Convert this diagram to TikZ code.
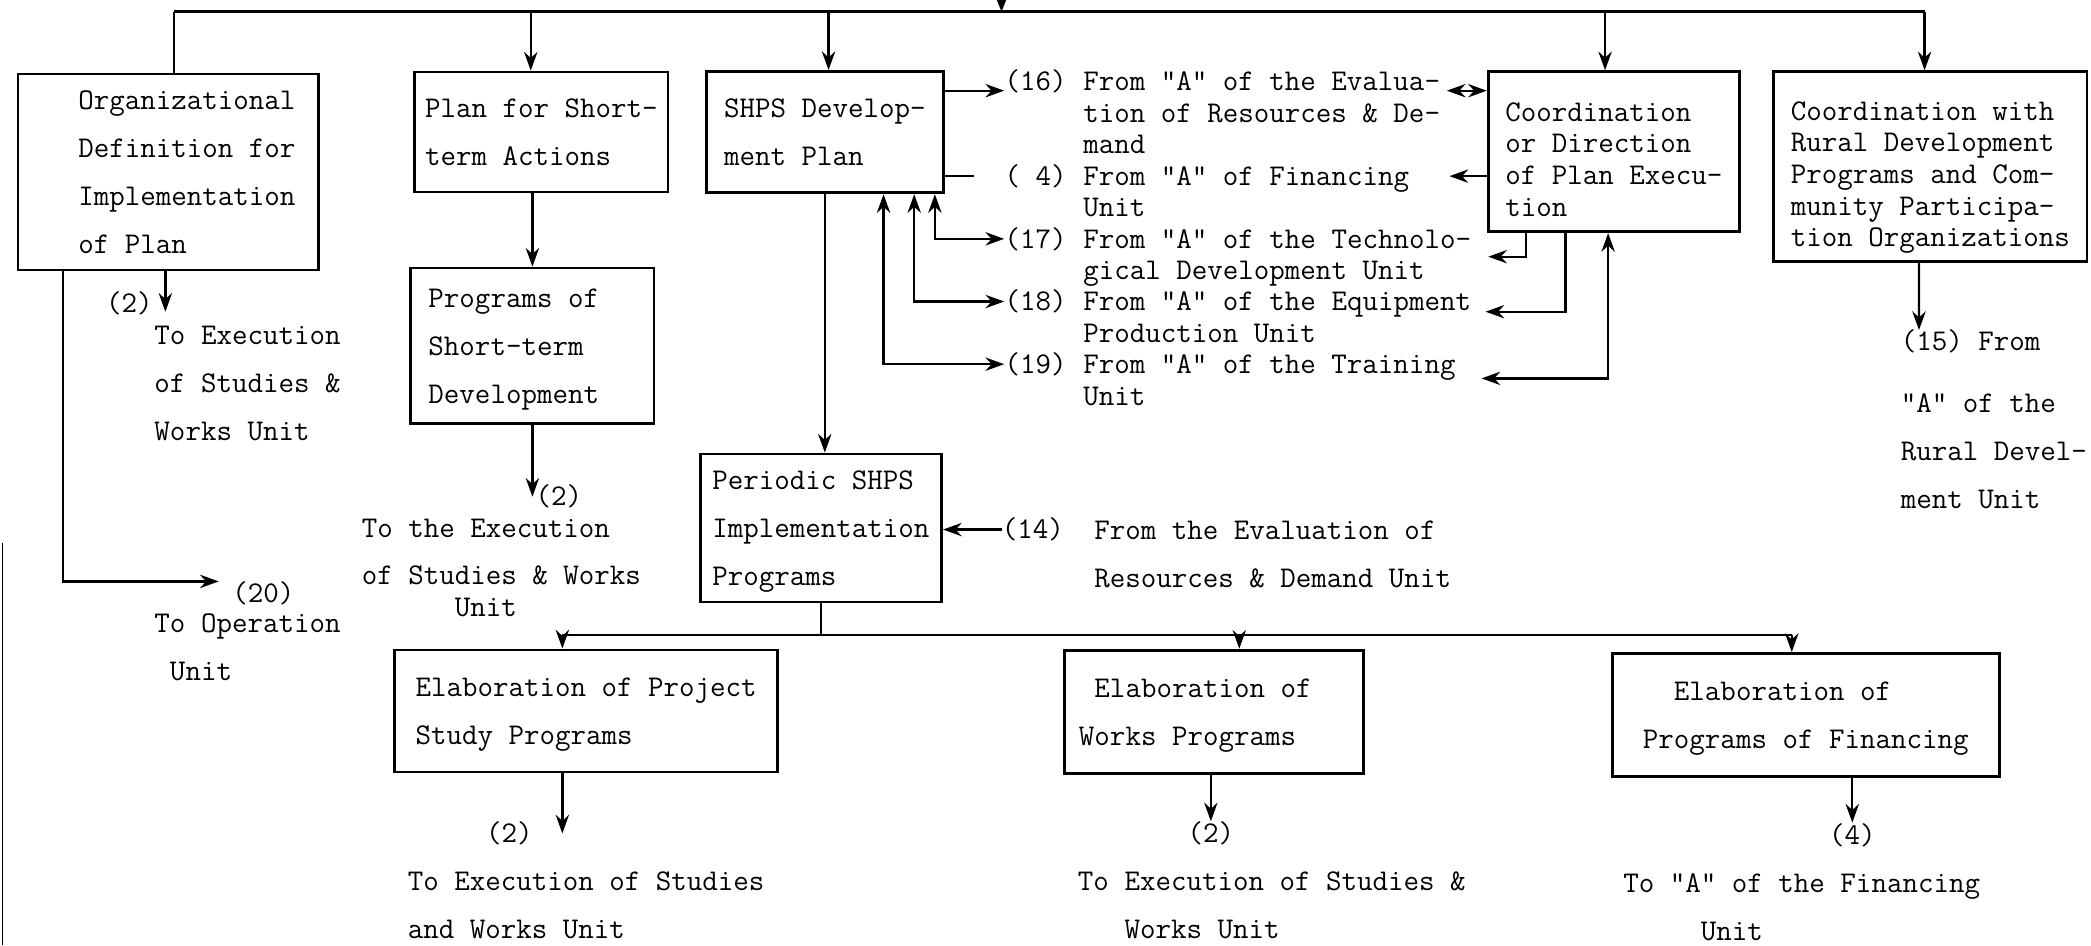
\documentclass[tikz,border=0pt]{standalone}
\usepackage{tikz}
\usetikzlibrary {arrows.meta,
                 positioning}
\tikzset{
        stage/.style={draw, rectangle, line width=1.2pt, inner sep=0pt},
        spaced/.style={font=\fontsize{12.85}{20.5}\selectfont\ttfamily},
        packed/.style={font=\fontsize{12.85}{13.5}\selectfont\ttfamily},
        note/.style={inner sep=0pt, anchor=base west},
        link/.style={line width=1pt},
        myarrow/.style={-{Stealth[length=2.8mm, width=2mm]}, line width=1pt},
        twoway/.style={{Stealth[length=2.8mm, width=2mm]}-{Stealth[length=2.8mm, width=2mm]},
                       line width=1pt},
 }

\begin{document}
\begin{tikzpicture}[x=0.02cm, y=-0.02cm]
    \useasboundingbox (0,0) rectangle (1568,709);

    % boxes of the plan
    \node[draw, stage, spaced, minimum width=4.51cm, minimum height=2.94cm] (orgdef) at (126.2,129)
    {\begin{tabular}{@{\hspace{0.56cm}}l@{}}
        Organizational\\
        Definition for\\
        Implementation\\
        of Plan\\
    \end{tabular}};

    \node[draw, stage, spaced, minimum width=3.8cm, minimum height=1.8cm] (shortplan) at (406,99)
    {\begin{tabular}{@{}l@{}}
        Plan for Short-\\
        term Actions\\
    \end{tabular}};

    \node[draw, stage, spaced, minimum width=3.65cm, minimum height=2.33cm] (shortprog) at (399.25,259.25)
    {\begin{tabular}{@{}l@{\hspace{0.56cm}}}
        Programs of\\
        Short-term\\
        Development\\
    \end{tabular}};

    \node[draw, stage, spaced, minimum width=3.56cm, minimum height=1.82cm] (devplan) at (618.5,99.1)
    {\begin{tabular}{@{}l@{}}
        SHPS Develop-\\
        ment Plan\\
    \end{tabular}};

    \node[draw, stage, spaced, minimum width=3.62cm, minimum height=2.22cm] (periodic) at (615.6,395.9)
    {\begin{tabular}{@{}l@{}}
        Periodic SHPS\\
        Implementation\\
        Programs\\
    \end{tabular}};

    \node[draw, stage, packed, minimum width=3.77cm, minimum height=2.4cm] (coord) at (1210.2,113.75)
    {\begin{tabular}{@{}l@{}}
        \rule{0pt}{0.65cm}Coordination\\
        or Direction\\
        of Plan Execu-\\
        tion\\
    \end{tabular}};

    \node[draw, stage, packed, minimum width=4.7cm, minimum height=2.85cm] (rural) at (1447.5,125)
    {\begin{tabular}{@{}l@{}}
        \rule{0pt}{0.65cm}Coordination with\\
        Rural Development\\
        Programs and Com-\\
        munity Participa-\\
        tion Organizations\\
    \end{tabular}};

    \node[draw, stage, spaced, minimum width=5.74cm, minimum height=1.83cm] (elabstudy) at (439.5,533.1)
    {\begin{tabular}{@{}l@{}}
        Elaboration of Project\\
        Study Programs\\
    \end{tabular}};

    \node[draw, stage, spaced, minimum width=4.48cm, minimum height=1.85cm] (elabworks) at (910.3,533.75)
    {\begin{tabular}{@{}l@{\hspace{0.56cm}}}
        \ Elaboration of\\
        Works Programs\\
    \end{tabular}};

    \node[draw, stage, spaced, minimum width=5.81cm, minimum height=1.85cm] (elabfin) at (1354.1,536.25)
    {\begin{tabular}{@{}l@{}}
        \ \ Elaboration of\\
        Programs of Financing\\
    \end{tabular}};

    % outlets of the organizational box
    \node[spaced, inner sep=0pt] (org2) at (97,227.5) {(2)};
    \node[note, spaced] (orgexec) at (115.5,258)
    {\begin{tabular}[t]{@{}l@{}}
        To Execution\\
        of Studies \&\\
        Works Unit\\
    \end{tabular}};
    \node[spaced, inner sep=0pt] (org20) at (197.5,445) {(20)};
    \node[note, spaced] (orgoper) at (115.5,474.5)
    {\begin{tabular}[t]{@{}l@{}}
        To Operation\\
        \ Unit\\
    \end{tabular}};

    \node[spaced, inner sep=0pt] (prog2) at (419,372.5) {(2)};
    \node[note, packed] (progexec) at (271,403)
    {\begin{tabular}[t]{@{}l@{}}
        To the Execution\\[6.8pt]
        of Studies \& Works\\
        \ \ \ \ \ \ Unit\\
    \end{tabular}};

    % sources beside the development plan
    \node[note, packed] (no16) at (753,68) {(16)};
    \node[note, packed, base right=6.75pt of no16] (from16)
    {\begin{tabular}[t]{@{}l@{}}
        From "A" of the Evalua-\\
        tion of Resources \& De-\\
        mand\\
    \end{tabular}};
    \node[note, packed] (no4) at (753,139) {( 4)};
    \node[note, packed, base right=6.75pt of no4] (from4)
    {\begin{tabular}[t]{@{}l@{}}
        From "A" of Financing\\
        Unit\\
    \end{tabular}};
    \node[note, packed] (no17) at (753,186) {(17)};
    \node[note, packed, base right=6.75pt of no17] (from17)
    {\begin{tabular}[t]{@{}l@{}}
        From "A" of the Technolo-\\
        gical Development Unit\\
    \end{tabular}};
    \node[note, packed] (no18) at (753,233) {(18)};
    \node[note, packed, base right=6.75pt of no18] (from18)
    {\begin{tabular}[t]{@{}l@{}}
        From "A" of the Equipment\\
        Production Unit\\
    \end{tabular}};
    \node[note, packed] (no19) at (753,280) {(19)};
    \node[note, packed, base right=6.75pt of no19] (from19)
    {\begin{tabular}[t]{@{}l@{}}
        From "A" of the Training\\
        Unit\\
    \end{tabular}};

    \node[note, spaced] (no14) at (751,404) {(14)};
    \node[note, spaced] (evalsrc) at (820.3,404.5)
    {\begin{tabular}[t]{@{}l@{}}
        From the Evaluation of\\
        Resources \& Demand Unit\\
    \end{tabular}};

    \node[note, spaced] (rural15) at (1425,263)
    {\begin{tabular}[t]{@{}l@{}}
        (15) From\\[6pt]
        "A" of the\\
        Rural Devel-\\
        ment Unit\\
    \end{tabular}};

    % outlets of the elaboration boxes
    \node[spaced, inner sep=0pt] (study2) at (382,625) {(2)};
    \node[note, spaced] (studyexec) at (305.5,668)
    {\begin{tabular}[t]{@{}l@{}}
        To Execution of Studies\\
        and Works Unit\\
    \end{tabular}};
    \node[spaced, inner sep=0pt] (works2) at (908,625) {(2)};
    \node[note, spaced] (worksexec) at (808,668)
    {\begin{tabular}[t]{@{}l@{}}
        To Execution of Studies \&\\
        \ \ \ Works Unit\\
    \end{tabular}};
    \node[spaced, inner sep=0pt] (fin4) at (1389,626) {(4)};
    \node[note, spaced] (finexec) at (1217,669.5)
    {\begin{tabular}[t]{@{}l@{}}
        To "A" of the Financing\\
        \ \ \ \ \ Unit\\
    \end{tabular}};

    % free ends of the connectors
    \coordinate (feed) at (751,-30);
    \coordinate (busorg) at (130.6,8.75);
    \coordinate (busshort) at (398,8.75);
    \coordinate (busdev) at (621.3,8.75);
    \coordinate (buscoord) at (1203.6,8.75);
    \coordinate (busrural) at (1443.2,8.75);
    \coordinate (hubstudy) at (421.7,476);
    \coordinate (hubworks) at (929.3,476);
    \coordinate (hubfin) at (1343.6,476);
    \coordinate (org2tip) at (124,233.75);
    \coordinate (opertip) at (164,436);
    \coordinate (techtip) at (1116,192.5);
    \coordinate (equiptip) at (1114,233.75);
    \coordinate (traintip) at (1111,283.75);
    \coordinate (rural15tip) at (1439,247.5);

    % top distribution line
    \draw[-{Stealth[length=4mm, width=3.2mm]}, line width=2.2pt] (feed) -- (feed |- busorg);
    \draw[link] (busorg) -- (busrural);
    \draw[link] (busorg) -- (busorg |- orgdef.north);
    \draw[myarrow] (busshort) -- (busshort |- shortplan.north);
    \draw[myarrow] (busdev) -- (busdev |- devplan.north);
    \draw[myarrow] (buscoord) -- (buscoord |- coord.north);
    \draw[myarrow] (busrural) -- (busrural |- rural.north);

    \draw[myarrow] (org2tip |- orgdef.south) -- (org2tip);
    \draw[myarrow] ([xshift=0.7cm]orgdef.south west) |- (opertip);
    \draw[myarrow] (shortplan.south -| shortprog.north) -- (shortprog.north);
    \draw[myarrow] (shortprog.south) -- (shortprog.south |- prog2);

    % development plan links
    \draw[myarrow] (devplan.east |- no16.base) -- (no16.base west);
    \draw[link] (devplan.east |- no4) -- ([xshift=-0.46cm]no4.west);
    \draw[twoway] ([xshift=-0.15cm]devplan.south east) |- (no17.west);
    \draw[twoway] ([xshift=-0.46cm]devplan.south east) |- (no18.west);
    \draw[twoway] ([xshift=-0.92cm]devplan.south east) |- (no19.west);
    \draw[myarrow] (devplan.south) -- (devplan.south |- periodic.north);
    \draw[myarrow] (no14.west) -- (no14.west -| periodic.east);

    % coordination links
    \draw[twoway] ([xshift=-0.6cm]coord.west |- no16.base) -- (coord.west |- no16.base);
    \draw[myarrow] (coord.west |- no4) -- ([xshift=-0.56cm]coord.west |- no4);
    \draw[myarrow] ([xshift=0.59cm]coord.south west) |- (techtip);
    \draw[myarrow] ([xshift=1.18cm]coord.south west) |- (equiptip);
    \draw[twoway] (traintip) -| ([xshift=1.82cm]coord.south west);
    \draw[myarrow] ([xshift=-0.17cm]rural.south) -- (rural15tip);

    % lower distribution line
    \draw[link] (periodic.south) -- (periodic.south |- hubstudy);
    \draw[link] (hubstudy) -- (hubfin);
    \draw[myarrow] (hubstudy) -- (hubstudy |- elabstudy.north);
    \draw[myarrow] (hubworks) -- (hubworks |- elabworks.north);
    \draw[myarrow] (hubfin) -- (hubfin |- elabfin.north);
    \draw[myarrow] (hubstudy |- elabstudy.south) -- (hubstudy |- study2);
    \draw[myarrow] (works2 |- elabworks.south) -- (works2.north);
    \draw[myarrow] (fin4 |- elabfin.south) -- (fin4.north);

    % edge of the sheet
    \draw[line width=0.6pt] (1.7,407.5) -- (1.7,709);

\end{tikzpicture}
\end{document}
